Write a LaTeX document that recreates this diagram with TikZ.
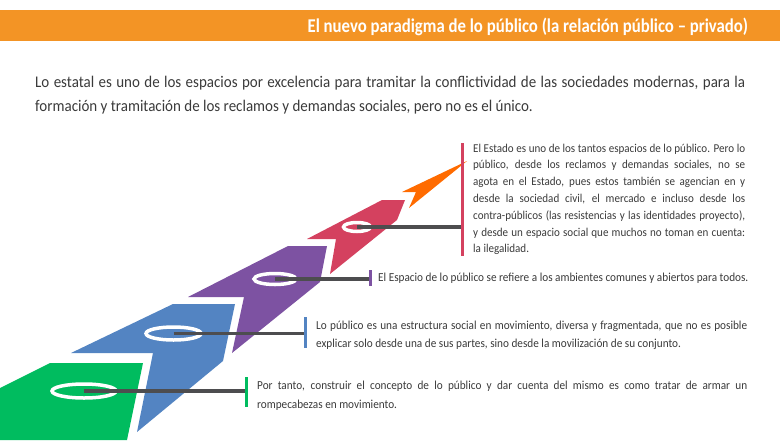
\documentclass[tikz,border=0pt]{standalone}
\usepackage{fontspec}
\setmainfont[FakeStretch=0.92]{Carlito}
\newfontfamily\headfont[FakeStretch=0.86]{Carlito}
\usetikzlibrary{positioning}
\definecolor{Band}{HTML}{F39425}
\definecolor{Tip}{HTML}{FF6B00}
\definecolor{Rose}{HTML}{D4415F}
\definecolor{Violet}{HTML}{7D52A2}
\definecolor{Azure}{HTML}{5384C2}
\definecolor{Leaf}{HTML}{00BC5F}
\definecolor{Wire}{HTML}{4D4D4F}
\definecolor{Ink}{HTML}{3A3A3A}
\tikzset{
  piece/.style={fill=#1,draw=none},
  ring/.style={draw=white,line width=3.5pt},
  link/.style={draw=Wire,line width=3.5pt},
  vbar/.style={draw=#1,line width=3pt},
  note/.style={anchor=north west,inner sep=0pt,align=justify,text=Ink,font=\fontsize{12.2}{18.3}\selectfont},
  title/.style={anchor=base east,inner sep=0pt,text=white,font=\headfont\bfseries\fontsize{19.5}{21}\selectfont}
}
\begin{document}
\begin{tikzpicture}[x=1pt,y=-1pt]
  \useasboundingbox (0,0) rectangle (780,440);
  \fill[Band] (0,10) rectangle (780,41);
  \node[title] (ttl) at (748,32.5) {El nuevo paradigma de lo público (la relación público – privado)};
  \node[note,text width=710pt,font=\fontsize{16.3}{23.5}\selectfont] (intro) at (35,76)
    {Lo estatal es uno de los espacios por excelencia para tramitar la conflictividad de las sociedades modernas, para la\linebreak formación y tramitación de los reclamos y demandas sociales, pero no es el único.};

  \fill[piece=Tip] (467,161) -- (402,192) -- (416,192) -- (409,208) -- cycle;
  \fill[piece=Rose] (307,239) -- (382,200) -- (405,200) -- (397,220) -- (330,274) -- (336,239) -- cycle;
  \fill[piece=Violet] (188,297) -- (288,246) -- (327,246) -- (320,282) -- (232,353) -- (244,297) -- cycle;
  \fill[piece=Azure] (71,353) -- (173,304) -- (235,304) -- (223,361) -- (137,432) -- (153,353) -- cycle;
  \fill[piece=Leaf] (0,388) -- (50,363) -- (143,363) -- (127,440) -- (0,440) -- cycle;

  \coordinate (e1) at (357,227);
  \coordinate (e2) at (275,279);
  \coordinate (e3) at (173.5,333.5);
  \coordinate (e4) at (84,391);
  \draw[ring] (e1) ellipse [x radius=13.5pt,y radius=4.5pt];
  \draw[ring] (e2) ellipse [x radius=21pt,y radius=5.5pt];
  \draw[ring] (e3) ellipse [x radius=27.5pt,y radius=6.5pt];
  \draw[ring] (e4) ellipse [x radius=32pt,y radius=7pt];

  \coordinate (k1) at (462,227);
  \coordinate (k2) at (370,279);
  \coordinate (k3) at (305,333.5);
  \coordinate (k4) at (246,391);
  \draw[link] (e1) -- (k1);
  \draw[link] (e2) -- (k2);
  \draw[link] (e3) -- (k3);
  \draw[link] (e4) -- (k4);
  \draw[vbar=Rose] (462,143) -- (462,256);
  \draw[vbar=Violet] (370,270) -- (370,286);
  \draw[vbar=Azure] (305,317) -- (305,348);
  \draw[vbar=Leaf] (246,377) -- (246,407);

  \node[note,text width=272pt,font=\fontsize{12}{16.8}\selectfont] (t1) at (473,143.5)
    {El Estado es uno de los tantos espacios de lo público. Pero lo\linebreak público, desde los reclamos y demandas sociales, no se\linebreak agota en el Estado, pues estos también se agencian en y\linebreak desde la sociedad civil, el mercado e incluso desde los\linebreak contra-públicos (las resistencias y las identidades proyecto),\linebreak y desde un espacio social que muchos no toman en cuenta:\linebreak la ilegalidad.};
  \node[note,anchor=base west] (t2) at (378,281.5)
    {El Espacio de lo público se refiere a los ambientes comunes y abiertos para todos.};
  \node[note,text width=431pt] (t3) at (316,320.5)
    {Lo público es una estructura social en movimiento, diversa y fragmentada, que no es posible\linebreak explicar solo desde una de sus partes, sino desde la movilización de su conjunto.};
  \node[note,text width=490pt,font=\fontsize{12.2}{18.6}\selectfont] (t4) at (257,381)
    {Por tanto, construir el concepto de lo público y dar cuenta del mismo es como tratar de armar un\linebreak rompecabezas en movimiento.};
\end{tikzpicture}
\end{document}
